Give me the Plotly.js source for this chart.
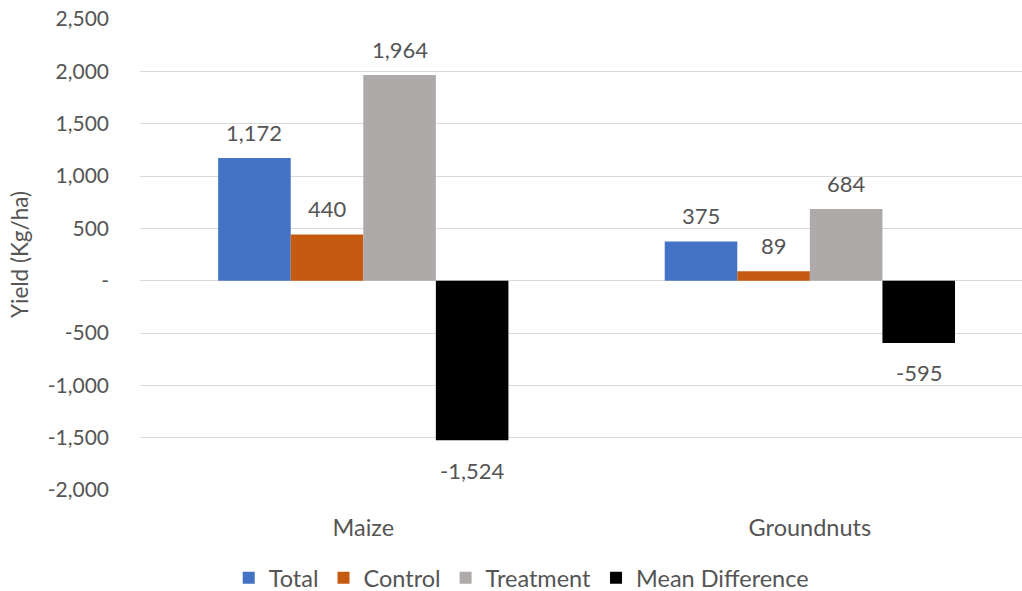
<!DOCTYPE html>
<html>
<head>
<meta charset="utf-8">
<script src="https://cdn.plot.ly/plotly-3.0.1.min.js"></script>
<style>html,body{margin:0;padding:0;background:#fff;}#chart{width:1022px;height:591px;}</style>
</head>
<body>
<div id="chart"></div>
<script>
const categories = ["Maize", "Groundnuts"];
const seriesNames = ["Total", "Control", "Treatment", "Mean Difference"];
const totalValues = [1172, 375];
const controlValues = [440, 89];
const treatmentValues = [1964, 684];
const meanDiffValues = [-1524, -595];
const seriesColors = ["#4472C4", "#C55A11", "#AEAAAA", "#000000"];
const yTickVals = [-2000, -1500, -1000, -500, 0, 500, 1000, 1500, 2000, 2500];
const yTickText = ["-2,000", "-1,500", "-1,000", "-500", "-", "500", "1,000", "1,500", "2,000", "2,500"];

const allValues = [totalValues, controlValues, treatmentValues, meanDiffValues];
const FONT = "Lato, 'Open Sans', sans-serif";
const TXT = "#555555";
const bargap = 0.35;
const nS = allValues.length;
const bw = (1 - bargap) / nS;

const traces = allValues.map((vals, s) => ({
  type: "bar",
  name: seriesNames[s],
  x: categories,
  y: vals,
  marker: {color: seriesColors[s], line: {width: 0}},
  hoverinfo: "skip"
}));

const fmt = v => (v < 0 ? "-" : "") + Math.abs(v).toLocaleString("en-US");
const annotations = [];
allValues.forEach((vals, s) => {
  vals.forEach((v, i) => {
    annotations.push({
      xref: "x", yref: "y",
      x: i - (1 - bargap) / 2 + bw * (s + 0.5),
      y: v,
      text: fmt(v),
      showarrow: false,
      xanchor: "center", yanchor: "middle",
      yshift: v >= 0 ? 26 : -30,
      font: {family: FONT, size: 22, color: TXT}
    });
  });
});

const layout = {
  width: 1022, height: 591,
  margin: {l: 140, r: 0, t: 19, b: 101},
  paper_bgcolor: "#ffffff", plot_bgcolor: "#ffffff",
  barmode: "group", bargap: bargap, bargroupgap: 0,
  showlegend: true,
  legend: {
    orientation: "h", x: 0.51, xref: "container", xanchor: "center",
    y: 0.022, yref: "container", yanchor: "middle",
    font: {family: FONT, size: 23.5, color: TXT},
    itemwidth: 30, traceorder: "normal"
  },
  xaxis: {
    type: "category",
    range: [-0.5, 1.475],
    showgrid: false, zeroline: false, showline: false,
    ticks: "", ticklabelstandoff: 21,
    tickfont: {family: FONT, size: 23.5, color: TXT}
  },
  yaxis: {
    range: [-2000, 2500],
    tickvals: yTickVals, ticktext: yTickText,
    showgrid: true, gridcolor: "#D9D9D9", gridwidth: 1,
    zeroline: true, zerolinecolor: "#D9D9D9", zerolinewidth: 1,
    showline: false, ticks: "", ticklabelstandoff: 30,
    tickfont: {family: FONT, size: 21, color: TXT},
    title: {text: "Yield (Kg/ha)", font: {family: FONT, size: 22.5, color: TXT}, standoff: 12}
  },
  annotations: annotations
};

Plotly.newPlot("chart", traces, layout, {staticPlot: true, displayModeBar: false});
</script>
</body>
</html>
